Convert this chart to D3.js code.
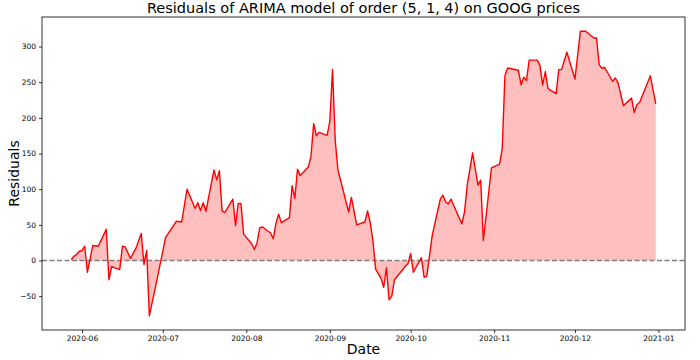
<!DOCTYPE html>
<html>
<head>
<meta charset="utf-8">
<script src="https://cdn.jsdelivr.net/npm/d3@7"></script>
<style>
body{margin:0;background:#fff;}
svg{display:block;font-family:"DejaVu Sans",sans-serif;}
</style>
</head>
<body>
<svg id="chart" width="700" height="360"></svg>
<script>
const dates = ["2020-05-28","2020-05-29","2020-05-30","2020-05-31","2020-06-01","2020-06-02","2020-06-03","2020-06-05","2020-06-07","2020-06-10","2020-06-11","2020-06-12","2020-06-15","2020-06-16","2020-06-17","2020-06-19","2020-06-21","2020-06-23","2020-06-24","2020-06-25","2020-06-26","2020-06-29","2020-07-02","2020-07-06","2020-07-08","2020-07-10","2020-07-13","2020-07-14","2020-07-15","2020-07-16","2020-07-17","2020-07-20","2020-07-21","2020-07-22","2020-07-23","2020-07-24","2020-07-27","2020-07-28","2020-07-29","2020-07-30","2020-07-31","2020-08-03","2020-08-04","2020-08-05","2020-08-06","2020-08-07","2020-08-10","2020-08-11","2020-08-12","2020-08-13","2020-08-14","2020-08-17","2020-08-18","2020-08-19","2020-08-20","2020-08-21","2020-08-24","2020-08-25","2020-08-26","2020-08-27","2020-08-28","2020-08-31","2020-09-01","2020-09-02","2020-09-03","2020-09-04","2020-09-08","2020-09-09","2020-09-11","2020-09-14","2020-09-15","2020-09-16","2020-09-17","2020-09-18","2020-09-20","2020-09-21","2020-09-22","2020-09-23","2020-09-24","2020-09-25","2020-09-29","2020-09-30","2020-10-01","2020-10-02","2020-10-05","2020-10-06","2020-10-07","2020-10-09","2020-10-12","2020-10-13","2020-10-14","2020-10-15","2020-10-16","2020-10-17","2020-10-20","2020-10-21","2020-10-22","2020-10-24","2020-10-26","2020-10-27","2020-10-28","2020-10-31","2020-11-03","2020-11-04","2020-11-05","2020-11-06","2020-11-10","2020-11-11","2020-11-12","2020-11-13","2020-11-14","2020-11-17","2020-11-18","2020-11-19","2020-11-20","2020-11-21","2020-11-24","2020-11-25","2020-11-26","2020-11-28","2020-12-01","2020-12-03","2020-12-05","2020-12-08","2020-12-09","2020-12-10","2020-12-11","2020-12-12","2020-12-15","2020-12-16","2020-12-17","2020-12-19","2020-12-22","2020-12-23","2020-12-24","2020-12-25","2020-12-29","2020-12-31"];
const residuals = [1,6,8.5,13,14,20,-16.5,21,20,43.7,-27,-8.5,-12.7,20,19,3,17,38,-5.6,14,-77.5,-24,32,55,54,100,73,81,70,81,69,127,113,126,70,67,86,49,80,80,37,23.5,15.5,25,46,47,38.5,30.5,52,65,53,60,105,87,128,119,131,146,192,175,179.7,175.5,195,268,169,127,68,88.5,50,54,69.5,53,28,-12,-25,-37.5,-10.5,-55,-50,-27,-8.5,-4.7,10,-16.5,3.8,-23.5,-22,35,86,91.5,82,79.5,86,77,51.5,68,105.6,151,105.6,112.7,28,130,135,157,259,270,266.7,246.5,257,252.5,281,281,273.7,246,265,241,234,267.6,267.6,292,254.5,321.5,321.5,312,312,274.6,269.5,271,251,255.9,249,217,227.7,207.5,218.3,221.5,259,219.7];
const yTicks = [-50,0,50,100,150,200,250,300];
const xTickDates = ["2020-06-01","2020-07-01","2020-08-01","2020-09-01","2020-10-01","2020-11-01","2020-12-01","2021-01-01"];
const titleText = "Residuals of ARIMA model of order (5, 1, 4) on GOOG prices";
const xLabel = "Date";
const yLabel = "Residuals";

const parse = d3.utcParse("%Y-%m-%d");
const data = dates.map((d,i)=>({date:parse(d), value:residuals[i]}));

const svg = d3.select("#chart");
const m = {left:42, right:15, top:17, bottom:30};
const W = 700, H = 360;

const xExt = d3.extent(data, d=>d.date);
const xPad = (xExt[1]-xExt[0])*0.05;
const x = d3.scaleUtc().domain([new Date(+xExt[0]-xPad), new Date(+xExt[1]+xPad)]).range([m.left, W-m.right]);
const yExt = d3.extent(data, d=>d.value);
const yPad = (yExt[1]-yExt[0])*0.05;
const y = d3.scaleLinear().domain([yExt[0]-yPad, yExt[1]+yPad]).range([H-m.bottom, m.top]);

// fill
svg.append("path").datum(data)
  .attr("fill","#ff0000").attr("fill-opacity",0.25)
  .attr("d", d3.area().x(d=>x(d.date)).y0(y(0)).y1(d=>y(d.value)));

// zero dashed line
svg.append("line")
  .attr("x1", m.left).attr("x2", W-m.right)
  .attr("y1", y(0)).attr("y2", y(0))
  .attr("stroke","#808080").attr("stroke-width",1.3).attr("stroke-dasharray","5,2.5");

// line
svg.append("path").datum(data)
  .attr("fill","none").attr("stroke","#ff0000").attr("stroke-width",1.4)
  .attr("stroke-linejoin","round")
  .attr("d", d3.line().x(d=>x(d.date)).y(d=>y(d.value)));

// axes
const xAxis = svg.append("g").attr("transform",`translate(0,${H-m.bottom})`)
  .call(d3.axisBottom(x).tickValues(xTickDates.map(parse)).tickFormat(d3.utcFormat("%Y-%m")).tickSize(3).tickPadding(3));
const yAxis = svg.append("g").attr("transform",`translate(${m.left},0)`)
  .call(d3.axisLeft(y).tickValues(yTicks).tickFormat(d=> d<0 ? "\u2212"+Math.abs(d) : d).tickSize(3).tickPadding(3));
[xAxis,yAxis].forEach(g=>{
  g.select(".domain").remove();
  g.selectAll("text").attr("font-size",7.5).attr("font-family","DejaVu Sans").attr("fill","#000");
  g.selectAll("line").attr("stroke","#000").attr("stroke-width",0.8);
});

// frame
svg.append("rect").attr("x",m.left).attr("y",m.top).attr("width",W-m.left-m.right).attr("height",H-m.top-m.bottom)
  .attr("fill","none").attr("stroke","#000").attr("stroke-width",0.8);

svg.append("text").attr("x",(m.left+W-m.right)/2).attr("y",13).attr("text-anchor","middle")
  .attr("font-size",14.5).attr("fill","#000").text(titleText);
svg.append("text").attr("x",(m.left+W-m.right)/2).attr("y",354).attr("text-anchor","middle")
  .attr("font-size",14).attr("fill","#000").text(xLabel);
svg.append("text").attr("transform",`translate(19,${(m.top+H-m.bottom)/2}) rotate(-90)`).attr("text-anchor","middle")
  .attr("font-size",14).attr("fill","#000").text(yLabel);
</script>
</body>
</html>
